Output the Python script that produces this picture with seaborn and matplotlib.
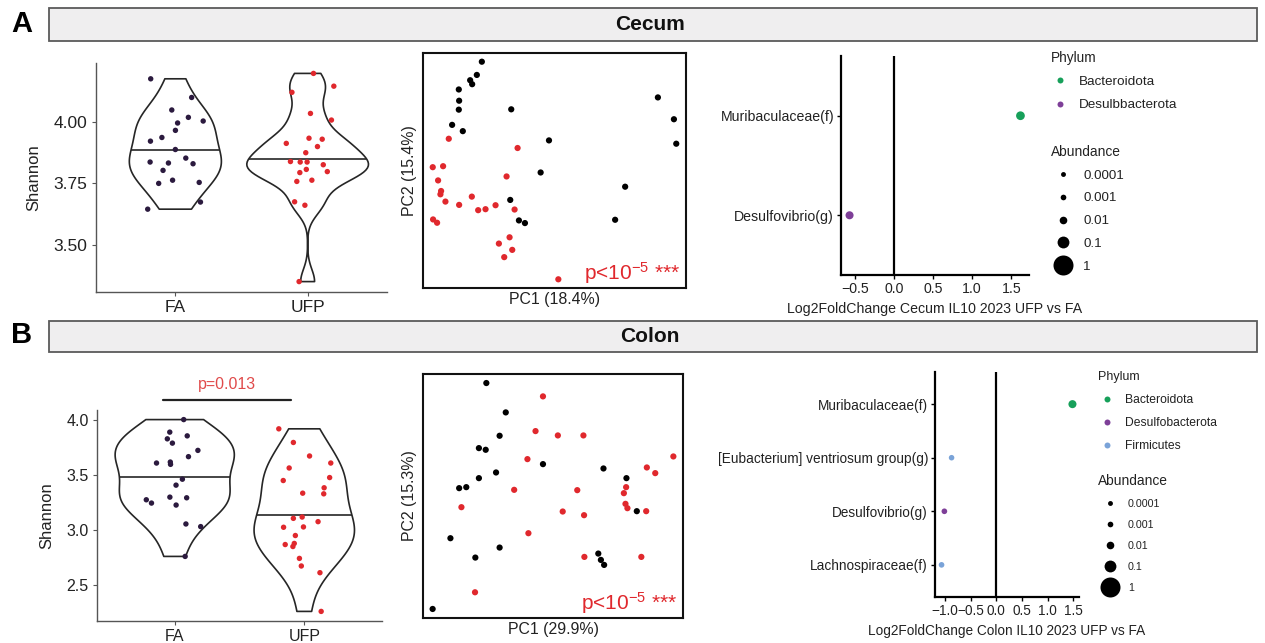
import numpy as np
import pandas as pd
import matplotlib
matplotlib.use("Agg")
import matplotlib.pyplot as plt
from matplotlib.lines import Line2D
from matplotlib.patches import Rectangle
import seaborn as sns

# ---------------- data ----------------
groups = ["FA", "UFP"]

cecum_shannon_fa = [4.175, 4.099, 4.048, 4.018, 4.003, 3.995, 3.965, 3.921, 3.936, 3.887,
                    3.852, 3.829, 3.832, 3.836, 3.802, 3.753, 3.749, 3.762, 3.673, 3.644]
cecum_shannon_ufp = [4.197, 4.145, 4.120, 4.034, 4.007, 3.912, 3.933, 3.929, 3.899, 3.874,
                     3.838, 3.836, 3.836, 3.806, 3.793, 3.797, 3.825, 3.757, 3.762, 3.674,
                     3.660, 3.349]
colon_shannon_fa = [4.006, 3.831, 3.792, 3.858, 3.892, 3.726, 3.611, 3.669, 3.620, 3.599,
                    3.464, 3.410, 3.301, 3.277, 3.247, 3.295, 3.229, 3.057, 3.033, 2.762]
colon_shannon_ufp = [3.922, 3.798, 3.675, 3.566, 3.611, 3.479, 3.386, 3.337, 3.331, 3.452,
                     3.108, 3.120, 3.078, 3.030, 3.027, 2.952, 2.880, 2.852, 2.870, 2.744,
                     2.675, 2.614, 2.262]

cecum_pc1_fa = [-0.216, -0.231, -0.251, -0.245, -0.285, -0.284, -0.285, -0.305, -0.273, -0.128,
                -0.015, -0.040, -0.131, -0.105, -0.087, 0.183, 0.213, 0.311, 0.359, 0.366]
cecum_pc2_fa = [0.336, 0.296, 0.280, 0.268, 0.252, 0.218, 0.191, 0.145, 0.126, 0.192,
                0.098, 0.001, -0.082, -0.144, -0.152, -0.142, -0.042, 0.228, 0.162, 0.088]
cecum_pc1_ufp = [-0.315, -0.109, -0.363, -0.332, -0.347, -0.338, -0.340, -0.325, -0.284, -0.246,
                 -0.227, -0.205, -0.175, -0.142, -0.118, -0.362, -0.350, -0.165, -0.133, -0.149,
                 -0.125, 0.013]
cecum_pc2_ufp = [0.103, 0.075, 0.017, 0.020, -0.023, -0.055, -0.065, -0.087, -0.097, -0.072,
                 -0.113, -0.110, -0.098, -0.011, -0.111, -0.141, -0.151, -0.214, -0.195, -0.255,
                 -0.233, -0.322]

colon_pc1_fa = [-0.194, -0.134, -0.153, -0.217, -0.196, -0.164, -0.217, -0.278, -0.256, -0.019,
                0.168, 0.239, 0.271, -0.305, -0.153, -0.228, 0.152, 0.160, 0.170, -0.360]
colon_pc2_fa = [0.330, 0.242, 0.172, 0.135, 0.130, 0.062, 0.045, 0.015, 0.018, 0.087,
                0.074, 0.045, -0.054, -0.135, -0.163, -0.193, -0.181, -0.200, -0.215, -0.347]
colon_pc1_ufp = [-0.019, -0.042, 0.027, 0.106, -0.067, -0.108, -0.271, 0.042, 0.108, 0.087,
                 -0.064, 0.109, -0.229, 0.231, 0.238, 0.236, 0.242, 0.300, 0.302, 0.328,
                 0.384, 0.285]
colon_pc2_ufp = [0.290, 0.186, 0.173, 0.173, 0.102, 0.010, -0.042, -0.055, -0.066, 0.009,
                 -0.120, -0.191, -0.297, 0.000, 0.018, -0.032, -0.045, -0.054, 0.077, 0.060,
                 0.110, -0.191]

cecum_taxa = ["Muribaculaceae(f)", "Desulfovibrio(g)"]
cecum_lfc = [1.617, -0.566]
cecum_phylum = ["Bacteroidota", "Desulbbacterota"]
cecum_abund = [0.022, 0.014]

colon_taxa = ["Muribaculaceae(f)", "[Eubacterium] ventriosum group(g)",
              "Desulfovibrio(g)", "Lachnospiraceae(f)"]
colon_lfc = [1.48, -0.87, -1.01, -1.065]
colon_phylum = ["Bacteroidota", "Firmicutes", "Desulfobacterota", "Firmicutes"]
colon_abund = [0.014, 0.0008, 0.001, 0.001]

abundance_levels = [0.0001, 0.001, 0.01, 0.1, 1]
abundance_labels = ["0.0001", "0.001", "0.01", "0.1", "1"]

# ---------------- style ----------------
sns.set_theme(style="ticks")
plt.rcParams["font.family"] = ["Liberation Sans", "DejaVu Sans"]
plt.rcParams["mathtext.default"] = "regular"
plt.rcParams["axes.unicode_minus"] = True

RED = "#e0282d"
group_colors = {"FA": "#2b1a3e", "UFP": RED}
pcoa_colors = {"FA": "#000000", "UFP": RED}
phylum_colors = {"Bacteroidota": "#17a05a", "Desulbbacterota": "#7e3f98",
                 "Desulfobacterota": "#7e3f98", "Firmicutes": "#7aa3d8"}
LINE = "#262626"

W, H = 1265, 643
fig = plt.figure(figsize=(W / 100, H / 100), dpi=100)


def rect(l, t, r, b):
    return [l / W, 1 - b / H, (r - l) / W, (b - t) / H]


def nrd0(kde):
    x = np.asarray(kde.dataset).ravel()
    sd = x.std(ddof=1)
    q75, q25 = np.percentile(x, [75, 25])
    lo = min(sd, (q75 - q25) / 1.34)
    return 0.9 * lo * x.size ** -0.2 / sd


def density_median(coll):
    v = coll.get_paths()[0].vertices
    xc = (v[:, 0].max() + v[:, 0].min()) / 2
    right = v[v[:, 0] >= xc - 1e-12]
    y = right[:, 1]
    w = right[:, 0] - xc
    y, ui = np.unique(y, return_index=True)
    w = w[ui]
    cdf = np.cumsum(w) / w.sum()
    ym = np.interp(0.5, cdf, y)
    wm = np.interp(ym, y, w)
    return xc - wm, xc + wm, ym


def diam_px(a):
    return np.sqrt(20 + 380 * np.sqrt(a))


def marker_area(a):
    return (diam_px(a) * 0.72) ** 2


def violin_panel(ax, fa, ufp, ticks, fmt, fs):
    df = pd.DataFrame({"group": ["FA"] * len(fa) + ["UFP"] * len(ufp),
                       "shannon": fa + ufp})
    sns.violinplot(data=df, x="group", y="shannon", order=groups, cut=0, inner=None,
                   fill=False, color=LINE, linewidth=1.2, width=0.92,
                   bw_method=nrd0, density_norm="area", saturation=1, ax=ax)
    for coll in list(ax.collections):
        x0, x1, ym = density_median(coll)
        ax.plot([x0, x1], [ym, ym], color=LINE, lw=1.2, solid_capstyle="butt")
    sns.stripplot(data=df, x="group", y="shannon", order=groups, hue="group",
                  hue_order=groups, palette=group_colors, jitter=0.22, size=3.9,
                  linewidth=0, legend=False, ax=ax)
    lo, hi = df["shannon"].min(), df["shannon"].max()
    pad = 0.05 * (hi - lo)
    ax.set_ylim(lo - pad, hi + pad)
    ax.set_xlim(-0.6, 1.6)
    ax.set_yticks(ticks)
    ax.set_yticklabels([fmt.format(t) for t in ticks])
    ax.set_xlabel("")
    ax.set_ylabel("Shannon", fontsize=12, color="#222222", labelpad=9)
    sns.despine(ax=ax)
    for s in ["left", "bottom"]:
        ax.spines[s].set_color("#555555")
        ax.spines[s].set_linewidth(1.0)
    ax.tick_params(axis="both", length=3, width=0.8, color="#555555",
                   labelsize=fs, labelcolor="#222222", pad=3)


def pcoa_panel(ax, fa1, fa2, ufp1, ufp2, xlab, ylab):
    df = pd.DataFrame({"PC1": fa1 + ufp1, "PC2": fa2 + ufp2,
                       "group": ["FA"] * len(fa1) + ["UFP"] * len(ufp1)})
    sns.scatterplot(data=df, x="PC1", y="PC2", hue="group", palette=pcoa_colors,
                    s=20, linewidth=0, legend=False, ax=ax)
    for col, setter in (("PC1", ax.set_xlim), ("PC2", ax.set_ylim)):
        lo, hi = df[col].min(), df[col].max()
        pad = 0.04 * (hi - lo)
        setter(lo - pad, hi + pad)
    ax.set_xticks([])
    ax.set_yticks([])
    for s in ax.spines.values():
        s.set_color("#111111")
        s.set_linewidth(1.5)
    ax.set_xlabel(xlab, fontsize=11.4, color="#222222", labelpad=3)
    ax.set_ylabel(ylab, fontsize=11.4, color="#222222", labelpad=4)
    ax.text(0.977, 0.035, r"p<10$^{-5}$ ***", transform=ax.transAxes, ha="right",
            va="baseline", color=RED, fontsize=15)


def dot_panel(ax, taxa, lfc, phylum, abund, xticks, xlab, fs):
    df = pd.DataFrame({"taxon": taxa, "lfc": lfc, "phylum": phylum, "abund": abund})
    ax.axvline(0, color="black", lw=1.6, zorder=1)
    sns.scatterplot(data=df, x="lfc", y="taxon", hue="phylum", palette=phylum_colors,
                    size="abund", sizes={a: marker_area(a) for a in set(abund)},
                    linewidth=0, legend=False, ax=ax, zorder=3)
    lo, hi = min(lfc), max(lfc)
    pad = 0.05 * (hi - lo)
    ax.set_xlim(lo - pad, hi + pad)
    ax.set_ylim(len(taxa) - 1 + 0.6, -0.6)
    ax.set_xticks(xticks)
    ax.set_xticklabels([f"{t:.1f}".replace("-", "\u2212") for t in xticks])
    ax.set_ylabel("")
    ax.set_xlabel(xlab, fontsize=fs, color="#222222", labelpad=4)
    sns.despine(ax=ax)
    for s in ["left", "bottom"]:
        ax.spines[s].set_color("black")
        ax.spines[s].set_linewidth(1.6)
    ax.tick_params(axis="both", length=3, width=1.0, color="black",
                   labelsize=fs, labelcolor="#222222", pad=2)


def add_legend(labels, colors, sizes_pt, title, x, y, fs, tfs, hl, htp, ls):
    handles = [Line2D([], [], marker="o", ls="", color=c, markeredgewidth=0,
                      markersize=m) for c, m in zip(colors, sizes_pt)]
    leg = fig.legend(handles, labels, title=title, loc="upper left",
                     bbox_to_anchor=(x / W, 1 - y / H), frameon=False, fontsize=fs,
                     title_fontsize=tfs, handlelength=hl, handletextpad=htp,
                     labelspacing=ls, borderpad=0, borderaxespad=0, alignment="left")
    for t in leg.get_texts():
        t.set_color("#222222")
    leg.get_title().set_color("#222222")
    return leg


np.random.seed(7)

# ---------------- headers ----------------
for (top, bot, name, letter, ly) in [(8, 41, "Cecum", "A", 24), (321, 352, "Colon", "B", 335)]:
    fig.add_artist(Rectangle((49 / W, 1 - bot / H), (1257 - 49) / W, (bot - top) / H,
                             transform=fig.transFigure, facecolor="#efeeef",
                             edgecolor="#5a5a5a", lw=1.3))
    fig.text(650 / W, 1 - (top + bot) / 2 / H, name, ha="center", va="center",
             fontsize=15, fontweight="bold", color="#111111")
    fig.text(22 / W, 1 - ly / H, letter, ha="center", va="center",
             fontsize=21, fontweight="bold", color="black")

# ---------------- panel A ----------------
axA1 = fig.add_axes(rect(96, 63, 387, 292))
violin_panel(axA1, cecum_shannon_fa, cecum_shannon_ufp, [3.50, 3.75, 4.00], "{:.2f}", 12.5)

axA2 = fig.add_axes(rect(423, 53, 686, 288))
pcoa_panel(axA2, cecum_pc1_fa, cecum_pc2_fa, cecum_pc1_ufp, cecum_pc2_ufp,
           "PC1 (18.4%)", "PC2 (15.4%)")

axA3 = fig.add_axes(rect(841, 56, 1029, 275))
dot_panel(axA3, cecum_taxa, cecum_lfc, cecum_phylum, cecum_abund,
          [-0.5, 0.0, 0.5, 1.0, 1.5], "Log2FoldChange Cecum IL10 2023 UFP vs FA", 10.2)

add_legend(["Bacteroidota", "Desulbbacterota"],
           [phylum_colors["Bacteroidota"], phylum_colors["Desulbbacterota"]],
           [4.3, 4.3], "Phylum", 1051, 51, 9.7, 9.8, 1.33, 0.74, 0.8)
add_legend(abundance_labels, ["black"] * 5, [diam_px(a) * 0.72 for a in abundance_levels],
           "Abundance", 1051, 145, 9.6, 9.9, 1.8, 0.6, 0.78)

# ---------------- panel B ----------------
axB1 = fig.add_axes(rect(97, 410, 382, 621))
violin_panel(axB1, colon_shannon_fa, colon_shannon_ufp, [2.5, 3.0, 3.5, 4.0], "{:.1f}", 11.5)
axB1.plot([-0.09, 0.9], [4.18, 4.18], color="#222222", lw=1.6, clip_on=False)
axB1.text(0.405, 4.26, "p=0.013", ha="center", va="bottom", color="#e04a4a",
          fontsize=11.5)

axB2 = fig.add_axes(rect(423, 374, 683, 618))
pcoa_panel(axB2, colon_pc1_fa, colon_pc2_fa, colon_pc1_ufp, colon_pc2_ufp,
           "PC1 (29.9%)", "PC2 (15.3%)")

axB3 = fig.add_axes(rect(935, 372, 1079, 597))
dot_panel(axB3, colon_taxa, colon_lfc, colon_phylum, colon_abund,
          [-1.0, -0.5, 0.0, 0.5, 1.0, 1.5], "Log2FoldChange Colon IL10 2023 UFP vs FA", 9.8)

add_legend(["Bacteroidota", "Desulfobacterota", "Firmicutes"],
           [phylum_colors["Bacteroidota"], phylum_colors["Desulfobacterota"],
            phylum_colors["Firmicutes"]],
           [4.3, 4.3, 4.3], "Phylum", 1098, 371, 8.7, 9.0, 1.49, 0.74, 0.92)
add_legend(abundance_labels, ["black"] * 5, [diam_px(a) * 0.72 for a in abundance_levels],
           "Abundance", 1098, 474, 7.7, 9.9, 2.24, 0.56, 1.03)

fig.savefig("out.png", dpi=100)
